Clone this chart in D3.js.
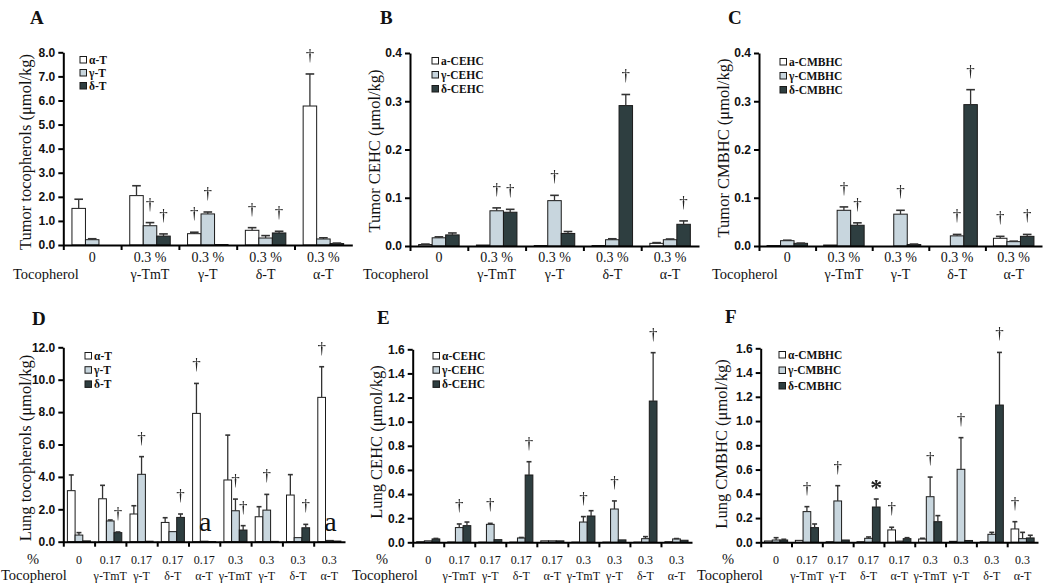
<!DOCTYPE html>
<html><head><meta charset="utf-8">
<script src="https://cdn.jsdelivr.net/npm/d3@7"></script>
<style>body{margin:0;background:#fff;} svg{display:block}</style>
</head><body><svg id="c" width="1050" height="586">
<defs><filter id="gray" x="-50%" y="-50%" width="200%" height="200%"><feColorMatrix type="saturate" values="0"/></filter></defs>
</svg>
<script>
// ---------- categories ----------
const topDose  = ["0", "0.3 %", "0.3 %", "0.3 %", "0.3 %"];
const topAgent = ["", "γ-TmT", "γ-T", "δ-T", "α-T"];
const lungDose  = ["0", "0.17", "0.17", "0.17", "0.17", "0.3", "0.3", "0.3", "0.3"];
const lungAgent = ["", "γ-TmT", "γ-T", "δ-T", "α-T", "γ-TmT", "γ-T", "δ-T", "α-T"];

// ---------- A: tumor tocopherols ----------
const aAlpha = [1.52, 2.05, 0.47, 0.61, 5.77];
const aAlphaErr = [0.38, 0.41, 0.06, 0.11, 1.33];
const aAlphaSig = ["", "", "†", "†", "†"];
const aGamma = [0.22, 0.80, 1.29, 0.29, 0.25];
const aGammaErr = [0.04, 0.13, 0.08, 0.10, 0.05];
const aGammaSig = ["", "†", "†", "", ""];
const aDelta = [0.0, 0.37, 0.02, 0.50, 0.06];
const aDeltaErr = [0, 0.09, 0, 0.07, 0.02];
const aDeltaSig = ["", "†", "", "†", ""];

// ---------- B: tumor CEHC ----------
const bAlpha = [0.003, 0.002, 0.001, 0.001, 0.0055];
const bAlphaErr = [0.001, 0, 0, 0, 0.0015];
const bAlphaSig = ["", "", "", "", ""];
const bGamma = [0.017, 0.073, 0.094, 0.013, 0.013];
const bGammaErr = [0.002, 0.006, 0.011, 0.002, 0.0015];
const bGammaSig = ["", "†", "†", "", ""];
const bDelta = [0.023, 0.070, 0.026, 0.291, 0.045];
const bDeltaErr = [0.004, 0.006, 0.004, 0.023, 0.007];
const bDeltaSig = ["", "†", "", "†", "†"];

// ---------- C: tumor CMBHC ----------
const cAlpha = [0.001, 0.002, 0.0, 0.0, 0.016];
const cAlphaErr = [0, 0, 0, 0, 0.004];
const cAlphaSig = ["", "", "", "", "†"];
const cGamma = [0.011, 0.074, 0.066, 0.021, 0.009];
const cGammaErr = [0.001, 0.007, 0.008, 0.003, 0.001];
const cGammaSig = ["", "†", "†", "†", ""];
const cDelta = [0.0055, 0.043, 0.003, 0.293, 0.020];
const cDeltaErr = [0.0005, 0.005, 0.001, 0.031, 0.004];
const cDeltaSig = ["", "†", "", "†", "†"];

// ---------- D: lung tocopherols ----------
const dAlpha = [3.15, 2.65, 1.71, 1.19, 7.92, 3.81, 1.54, 2.88, 8.91];
const dAlphaErr = [0.97, 0.83, 0.51, 0.29, 1.85, 2.77, 0.62, 1.26, 1.89];
const dAlphaSig = ["", "", "", "", "†", "", "", "", "†"];
const dGamma = [0.41, 1.28, 4.16, 0.62, 0.03, 1.91, 1.95, 0.25, 0.08];
const dGammaErr = [0.15, 0.06, 1.09, 0, 0, 0.72, 0.97, 0, 0];
const dGammaSig = ["", "", "†", "", "", "†", "†", "", ""];
const dDelta = [0.05, 0.56, 0.03, 1.50, 0.01, 0.72, 0.02, 0.86, 0.04];
const dDeltaErr = [0, 0.04, 0, 0.21, 0, 0.27, 0, 0.21, 0];
const dDeltaSig = ["", "†", "", "†", "", "†", "", "†", ""];
const dNotes = ["", "", "", "", "a", "", "", "", "a"];

// ---------- E: lung CEHC ----------
const eAlpha = [0.005, 0.003, 0.002, 0.002, 0.012, 0.002, 0.002, 0.002, 0.005];
const eAlphaErr = [0, 0, 0, 0, 0, 0, 0, 0, 0];
const eAlphaSig = ["", "", "", "", "", "", "", "", ""];
const eGamma = [0.012, 0.122, 0.149, 0.036, 0.012, 0.168, 0.276, 0.030, 0.028];
const eGammaErr = [0, 0.030, 0.008, 0.004, 0, 0.045, 0.067, 0.017, 0.003];
const eGammaSig = ["", "†", "†", "", "", "†", "†", "", ""];
const eDelta = [0.028, 0.138, 0.022, 0.558, 0.012, 0.218, 0.020, 1.171, 0.017];
const eDeltaErr = [0.004, 0.030, 0, 0.110, 0, 0.044, 0, 0.401, 0];
const eDeltaSig = ["", "", "", "†", "", "", "", "†", ""];

// ---------- F: lung CMBHC ----------
const fAlpha = [0.011, 0.016, 0.005, 0.005, 0.102, 0.027, 0.008, 0.004, 0.110];
const fAlphaErr = [0, 0, 0, 0, 0.022, 0.006, 0, 0, 0.060];
const fAlphaSig = ["", "", "", "", "†", "", "", "", "†"];
const fGamma = [0.019, 0.253, 0.341, 0.033, 0.010, 0.376, 0.602, 0.066, 0.030];
const fGammaErr = [0.019, 0.041, 0.126, 0.011, 0, 0.162, 0.261, 0.016, 0.052];
const fGammaSig = ["", "†", "†", "", "", "†", "†", "", ""];
const fDelta = [0.019, 0.121, 0.019, 0.291, 0.030, 0.170, 0.015, 1.132, 0.036];
const fDeltaErr = [0.006, 0.030, 0, 0.066, 0.008, 0.050, 0, 0.434, 0.022];
const fDeltaSig = ["", "", "", "*", "", "", "", "†", ""];

// ---------- legends / titles ----------
const legTocoT = ["α-T", "γ-T", "δ-T"];
const legTumorCEHC = ["a-CEHC", "γ-CEHC", "δ-CEHC"];
const legTumorCMBHC = ["a-CMBHC", "γ-CMBHC", "δ-CMBHC"];
const legLungCEHC = ["α-CEHC", "γ-CEHC", "δ-CEHC"];
const legLungCMBHC = ["α-CMBHC", "γ-CMBHC", "δ-CMBHC"];

const fills = ["#ffffff", "#c8d6de", "#2e3e40"];
const SERIF = "'Liberation Serif','Times New Roman',serif";
const SANS = "'Liberation Sans',Arial,sans-serif";

const svg = d3.select("#c");

function panel(p) {
  const g = svg.append("g");
  const n = p.dose.length;
  const x = d3.scaleBand().domain(d3.range(n)).range(p.xr).padding(0);
  const xl = d3.scaleLinear().domain([0, n]).range(p.xr);
  const y = d3.scaleLinear().domain([0, p.ymax]).range(p.yr);
  const sub = d3.scaleBand().domain([0, 1, 2])
    .range([x.bandwidth() / 2 - 1.5 * p.bw, x.bandwidth() / 2 + 1.5 * p.bw]).padding(0);

  const sigLayer = g.append("g").attr("filter", "url(#gray)");

  // bars
  p.series.forEach((s, si) => {
    const gs = g.append("g");
    s.v.forEach((v, i) => {
      const bx = x(i) + sub(si);
      const bw = sub.bandwidth();
      gs.append("rect")
        .attr("x", bx).attr("y", y(v))
        .attr("width", bw).attr("height", Math.max(0, y(0) - y(v)))
        .attr("fill", fills[si]).attr("stroke", "#1a1a1a").attr("stroke-width", 1);
      const e = s.e[i];
      const cx = bx + bw / 2;
      if (e > 0) {
        gs.append("line").attr("x1", cx).attr("x2", cx)
          .attr("y1", y(v)).attr("y2", y(v + e))
          .attr("stroke", "#333").attr("stroke-width", 1.3);
        gs.append("line").attr("x1", cx - bw * 0.32).attr("x2", cx + bw * 0.32)
          .attr("y1", y(v + e)).attr("y2", y(v + e))
          .attr("stroke", "#333").attr("stroke-width", 1.6);
      }
      const sig = s.sig[i];
      if (sig) {
        const top = y(v + e);
        const t = sigLayer.append("text").attr("x", cx)
          .attr("text-anchor", "middle").attr("font-family", SERIF)
          .attr("fill", "#222").text(sig);
        if (sig === "*") {
          t.attr("y", top - 4).attr("font-size", 24).attr("font-weight", "bold");
        } else {
          t.attr("y", top - 13).attr("font-size", 17);
        }
      }
    });
  });

  // notes like "a"
  if (p.notes) {
    p.notes.forEach((t, i) => {
      if (!t) return;
      g.append("text").attr("x", x(i) + x.bandwidth() / 2 + 1).attr("y", y(0) - 11)
        .attr("text-anchor", "middle").attr("font-family", SERIF)
        .attr("font-size", 28).attr("fill", "#111").text(t);
    });
  }

  // axes
  const ya = g.append("g").attr("transform", `translate(${p.xr[0]},0)`)
    .call(d3.axisLeft(y).tickValues(d3.range(0, p.ymax + 1e-9, p.ystep))
      .tickFormat(d3.format(".1f")).tickSizeInner(5).tickSizeOuter(0).tickPadding(3));
  const xa = g.append("g").attr("transform", `translate(0,${p.yr[0]})`)
    .call(d3.axisBottom(xl).tickValues(d3.range(0, n)).tickFormat("")
      .tickSizeInner(5).tickSizeOuter(0));
  [ya, xa].forEach(a => {
    a.selectAll("path,line").attr("stroke", "#000").attr("stroke-width", 2);
    a.selectAll("text").attr("font-family", SANS).attr("font-weight", "bold")
      .attr("font-size", 12).attr("fill", "#111");
  });

  // category labels
  p.dose.forEach((t, i) => {
    const cx = x(i) + x.bandwidth() / 2;
    g.append("text").attr("x", cx).attr("y", p.ly[0]).attr("text-anchor", "middle")
      .attr("font-family", SERIF).attr("font-size", p.lfs).attr("fill", "#111").text(t);
    g.append("text").attr("x", cx).attr("y", p.ly[1]).attr("text-anchor", "middle")
      .attr("font-family", SERIF).attr("font-size", p.lfs).attr("fill", "#111").text(p.agent[i]);
  });
  g.append("text").attr("x", p.tocX).attr("y", p.ly[1]).attr("font-family", SERIF)
    .attr("font-size", 14.5).attr("fill", "#111").text("Tocopherol");
  if (p.pctX !== undefined) {
    g.append("text").attr("x", p.pctX).attr("y", p.ly[0]).attr("text-anchor", "middle")
      .attr("font-family", SERIF).attr("font-size", 14.5).attr("fill", "#111").text("%");
  }

  // y title
  g.append("text").attr("transform", `translate(${p.tx},${p.ty}) rotate(-90)`)
    .attr("text-anchor", "middle").attr("font-family", SERIF)
    .attr("font-size", 16.5).attr("fill", "#111").text(p.title);

  // panel letter
  g.append("text").attr("x", p.letter[1]).attr("y", p.letter[2])
    .attr("font-family", SERIF).attr("font-weight", "bold")
    .attr("font-size", 19).attr("fill", "#111").text(p.letter[0]);

  // legend
  p.leg.forEach((t, i) => {
    const ly = p.legPos[1] + i * p.legStep;
    g.append("rect").attr("x", p.legPos[0]).attr("y", ly - 3.5).attr("width", 6.5).attr("height", 6.5)
      .attr("fill", fills[i]).attr("stroke", "#1a1a1a").attr("stroke-width", 1);
    g.append("text").attr("x", p.legPos[0] + 9).attr("y", ly + 3.8)
      .attr("font-family", SERIF).attr("font-weight", "bold")
      .attr("font-size", 11.5).attr("fill", "#111").text(t);
  });
}

const topLab = {dose: topDose, agent: topAgent, lfs: 14, ly: [262, 279], bw: 13.5};
const lungLab = {dose: lungDose, agent: lungAgent, lfs: 12, ly: [564, 580], bw: 7.7};

panel(Object.assign({}, topLab, {
  letter: ["A", 30, 24], xr: [63.3, 352.3], yr: [245, 52.3], ymax: 8, ystep: 1,
  series: [{v: aAlpha, e: aAlphaErr, sig: aAlphaSig}, {v: aGamma, e: aGammaErr, sig: aGammaSig}, {v: aDelta, e: aDeltaErr, sig: aDeltaSig}],
  leg: legTocoT, legPos: [80, 60], legStep: 13,
  title: "Tumor tocopherols (μmol/kg)", tx: 31, ty: 152, tocX: 13
}));
panel(Object.assign({}, topLab, {
  letter: ["B", 380, 24], xr: [410, 699], yr: [246, 53], ymax: 0.4, ystep: 0.1,
  series: [{v: bAlpha, e: bAlphaErr, sig: bAlphaSig}, {v: bGamma, e: bGammaErr, sig: bGammaSig}, {v: bDelta, e: bDeltaErr, sig: bDeltaSig}],
  leg: legTumorCEHC, legPos: [432, 61], legStep: 14,
  title: "Tumor CEHC (μmol/kg)", tx: 380, ty: 151, tocX: 363
}));
panel(Object.assign({}, topLab, {
  letter: ["C", 728, 24], xr: [759, 1042], yr: [246, 53], ymax: 0.4, ystep: 0.1,
  series: [{v: cAlpha, e: cAlphaErr, sig: cAlphaSig}, {v: cGamma, e: cGammaErr, sig: cGammaSig}, {v: cDelta, e: cDeltaErr, sig: cDeltaSig}],
  leg: legTumorCMBHC, legPos: [780, 62], legStep: 14,
  title: "Tumor CMBHC (μmol/kg)", tx: 729, ty: 148, tocX: 712
}));
panel(Object.assign({}, lungLab, {
  letter: ["D", 32, 325], xr: [63.3, 345], yr: [541.7, 347.3], ymax: 12, ystep: 2,
  series: [{v: dAlpha, e: dAlphaErr, sig: dAlphaSig}, {v: dGamma, e: dGammaErr, sig: dGammaSig}, {v: dDelta, e: dDeltaErr, sig: dDeltaSig}],
  notes: dNotes,
  leg: legTocoT, legPos: [85, 356], legStep: 14.2,
  title: "Lung tocopherols (μmol/kg)", tx: 31, ty: 448, tocX: 1, pctX: 33
}));
panel(Object.assign({}, lungLab, {
  letter: ["E", 377, 324], xr: [412.7, 692], yr: [542.3, 349.3], ymax: 1.6, ystep: 0.2,
  series: [{v: eAlpha, e: eAlphaErr, sig: eAlphaSig}, {v: eGamma, e: eGammaErr, sig: eGammaSig}, {v: eDelta, e: eDeltaErr, sig: eDeltaSig}],
  leg: legLungCEHC, legPos: [433, 356], legStep: 14.2,
  title: "Lung CEHC (μmol/kg)", tx: 382, ty: 442, tocX: 352, pctX: 382
}));
panel(Object.assign({}, lungLab, {
  letter: ["F", 725, 323], xr: [760.7, 1038], yr: [542.3, 348.3], ymax: 1.6, ystep: 0.2,
  series: [{v: fAlpha, e: fAlphaErr, sig: fAlphaSig}, {v: fGamma, e: fGammaErr, sig: fGammaSig}, {v: fDelta, e: fDeltaErr, sig: fDeltaSig}],
  leg: legLungCMBHC, legPos: [779, 355], legStep: 15.5,
  title: "Lung CMBHC (μmol/kg)", tx: 727, ty: 444, tocX: 697, pctX: 728
}));
</script>
</body></html>
